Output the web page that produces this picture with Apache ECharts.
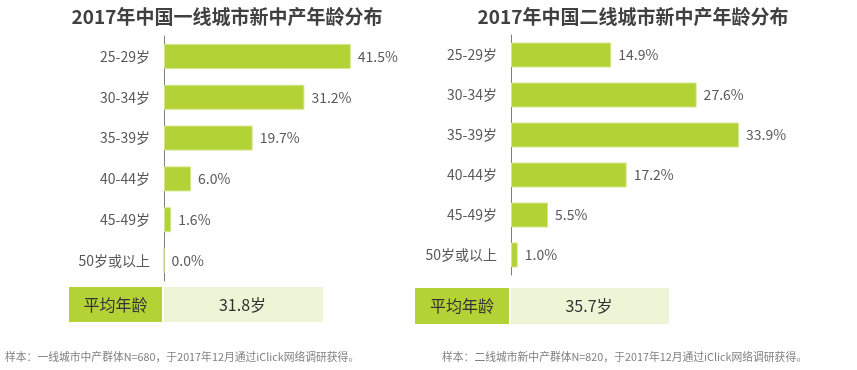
<!DOCTYPE html>
<html><head><meta charset="utf-8">
<script src="https://cdn.jsdelivr.net/npm/echarts@6/dist/echarts.min.js"></script>
<style>html,body{margin:0;padding:0;background:#fff}#c{width:857px;height:370px}</style>
</head><body><div id="c"></div>
<script>
var categories = ['25-29岁','30-34岁','35-39岁','40-44岁','45-49岁','50岁或以上'];
var tier1Values = [41.5, 31.2, 19.7, 6.0, 1.6, 0.0];
var tier2Values = [14.9, 27.6, 33.9, 17.2, 5.5, 1.0];
var titles = ['2017年中国一线城市新中产年龄分布','2017年中国二线城市新中产年龄分布'];
var avgLabel = '平均年龄';
var avgAges = ['31.8岁','35.7岁'];
var notes = ['样本：一线城市中产群体N=680，于2017年12月通过iClick网络调研获得。','样本：二线城市新中产群体N=820，于2017年12月通过iClick网络调研获得。'];

var FONT = '"Noto Sans CJK SC", "Noto Sans", sans-serif';
var GREEN = '#b2d235', LIGHT = '#eef5d6', TXT = '#595959';
var chart = echarts.init(document.getElementById('c'));

function yAx(i){
  return {type:'category', gridIndex:i, data:categories, inverse:true,
    axisLine:{show:true, lineStyle:{color:'#7f7f7f', width:1}},
    axisTick:{show:false},
    axisLabel:{color:TXT, fontSize:14, fontFamily:FONT, margin:14}};
}
function xAx(i,max){
  return {type:'value', gridIndex:i, min:0, max:max, show:false, splitLine:{show:false}};
}
function ser(i,data){
  return {type:'bar', xAxisIndex:i, yAxisIndex:i, data:data, barWidth:25,
    itemStyle:{color:GREEN, borderColor:'#d3e68a', borderWidth:1},
    label:{show:true, position:'right', distance:7, color:TXT, fontSize:14, fontFamily:FONT,
      formatter:function(p){return p.value.toFixed(1)+'%';}}};
}
function avgBox(x0,x1,x2,y,h,idx){
  return [
    {type:'rect', shape:{x:x0,y:y,width:x1-x0,height:h}, style:{fill:GREEN}},
    {type:'rect', shape:{x:x1+2,y:y,width:x2-x1-2,height:h}, style:{fill:LIGHT}},
    {type:'text', x:(x0+x1)/2, y:y+h/2, style:{text:avgLabel, fill:'#333', font:'16px '+FONT, align:'center', verticalAlign:'middle'}},
    {type:'text', x:(x1+x2)/2, y:y+h/2, style:{text:avgAges[idx], fill:'#333', font:'16px '+FONT, align:'center', verticalAlign:'middle'}}
  ];
}

chart.setOption({
  animation:false,
  title:[
    {text:titles[0], left:222, top:2, textAlign:'center', textStyle:{fontSize:19, fontWeight:'bold', color:'#404040', fontFamily:FONT}},
    {text:titles[1], left:628, top:2, textAlign:'center', textStyle:{fontSize:19, fontWeight:'bold', color:'#404040', fontFamily:FONT}}
  ],
  grid:[
    {left:164, top:36, width:225, height:245},
    {left:511, top:35, width:269, height:240}
  ],
  xAxis:[xAx(0,50), xAx(1,40)],
  yAxis:[yAx(0), yAx(1)],
  series:[ser(0,tier1Values), ser(1,tier2Values)],
  graphic:[].concat(
    avgBox(69,162,323,287,35,0),
    avgBox(415,509,669,288,36,1),
    [
      {type:'text', x:5, y:357, style:{text:notes[0], fill:'#808080', font:'10.8px '+FONT, verticalAlign:'middle'}},
      {type:'text', x:442, y:357, style:{text:notes[1], fill:'#808080', font:'10.8px '+FONT, verticalAlign:'middle'}}
    ]
  )
});
</script></body></html>
